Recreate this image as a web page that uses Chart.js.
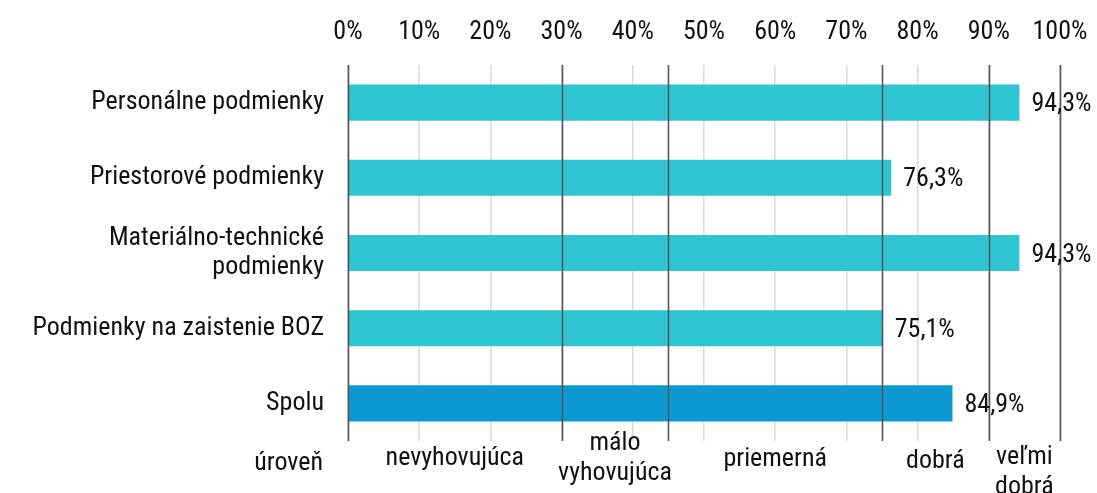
<!DOCTYPE html>
<html>
<head>
<meta charset="utf-8">
<script src="https://cdn.jsdelivr.net/npm/chart.js@4/dist/chart.umd.min.js"></script>
<style>
  html, body { margin: 0; padding: 0; background: #fff; }
  #wrap { width: 1097px; height: 493px; position: relative; }
</style>
</head>
<body>
<div id="wrap"><canvas id="c" width="1097" height="493"></canvas></div>
<script>
// Categories (multi-line labels as arrays)
const categories = [
  'Personálne podmienky',
  'Priestorové podmienky',
  ['Materiálno-technické', 'podmienky'],
  'Podmienky na zaistenie BOZ',
  'Spolu'
];
// Share of fulfilment, percent
const values = [94.3, 76.3, 94.3, 75.1, 84.9];
const valueLabels = ['94,3%', '76,3%', '94,3%', '75,1%', '84,9%'];
// Level bands on the percent scale
const bandEdges = [0, 30, 45, 75, 90, 100];
const bandNames = [['nevyhovujúca'], ['málo', 'vyhovujúca'], ['priemerná'], ['dobrá'], ['veľmi', 'dobrá']];
const levelTitle = 'úroveň';
const tickValues = [0, 10, 20, 30, 40, 50, 60, 70, 80, 90, 100];

const FONT = '"Roboto Condensed", "Liberation Sans Narrow", "Roboto", sans-serif';
const FS = 26;
const barColors = ['#2ec5d3', '#2ec5d3', '#2ec5d3', '#2ec5d3', '#0c99d1'];

// Band boundary lines, drawn over the bars
const bandLines = {
  id: 'bandLines',
  afterDatasetsDraw(chart) {
    const { ctx, chartArea, scales: { x } } = chart;
    ctx.save();
    ctx.strokeStyle = '#555';
    ctx.lineWidth = 1.6;
    bandEdges.forEach(v => {
      const px = Math.round(x.getPixelForValue(v)) + 0.5;
      ctx.beginPath();
      ctx.moveTo(px, chartArea.top);
      ctx.lineTo(px, chartArea.bottom);
      ctx.stroke();
    });
    ctx.restore();
  }
};

// Values after the bar ends, and band names under the plot
const textPlugin = {
  id: 'texts',
  afterDraw(chart) {
    const { ctx, scales: { x } } = chart;
    ctx.save();
    ctx.fillStyle = '#111';
    ctx.font = FS + 'px ' + FONT;
    ctx.textBaseline = 'middle';
    ctx.textAlign = 'left';
    const meta = chart.getDatasetMeta(0);
    meta.data.forEach((bar, i) => {
      ctx.fillText(valueLabels[i], bar.x + 12, bar.y + 2);
    });
    // band names; two-line names sit at their own heights
    const rows = [[458], [443, 473], [459], [461], [457, 487]];
    ctx.textAlign = 'center';
    bandNames.forEach((lines, i) => {
      const cx = (x.getPixelForValue(bandEdges[i]) + x.getPixelForValue(bandEdges[i + 1])) / 2;
      lines.forEach((t, k) => ctx.fillText(t, cx, rows[i][k]));
    });
    ctx.textAlign = 'right';
    ctx.fillText(levelTitle, 323, 463);
    ctx.restore();
  }
};

new Chart(document.getElementById('c'), {
  type: 'bar',
  data: {
    labels: categories,
    datasets: [{
      data: values,
      backgroundColor: barColors,
      borderWidth: 0,
      categoryPercentage: 1,
      barPercentage: 0.48
    }]
  },
  options: {
    indexAxis: 'y',
    responsive: false,
    animation: false,
    devicePixelRatio: 1,
    layout: { padding: { top: 0, right: 37, bottom: 52, left: 0 } },
    plugins: { legend: { display: false }, tooltip: { enabled: false } },
    scales: {
      x: {
        position: 'top',
        min: 0,
        max: 100,
        afterBuildTicks(axis) { axis.ticks = tickValues.map(v => ({ value: v })); },
        afterFit(axis) {
          axis.height = 65;
          axis.paddingLeft = 0;
          axis.paddingRight = 0;
        },
        ticks: {
          callback: v => v + '%',
          color: '#111',
          font: { family: FONT, size: FS },
          padding: 17,
          maxRotation: 0
        },
        grid: { color: '#dcdcdc', lineWidth: 1.6, drawTicks: false },
        border: { display: false }
      },
      y: {
        afterFit(axis) { axis.width = 348; },
        ticks: {
          color: '#111',
          font: { family: FONT, size: FS, lineHeight: 1.12 },
          padding: 24
        },
        grid: { display: false, drawTicks: false },
        border: { display: false }
      }
    }
  },
  plugins: [bandLines, textPlugin]
});
</script>
</body>
</html>
